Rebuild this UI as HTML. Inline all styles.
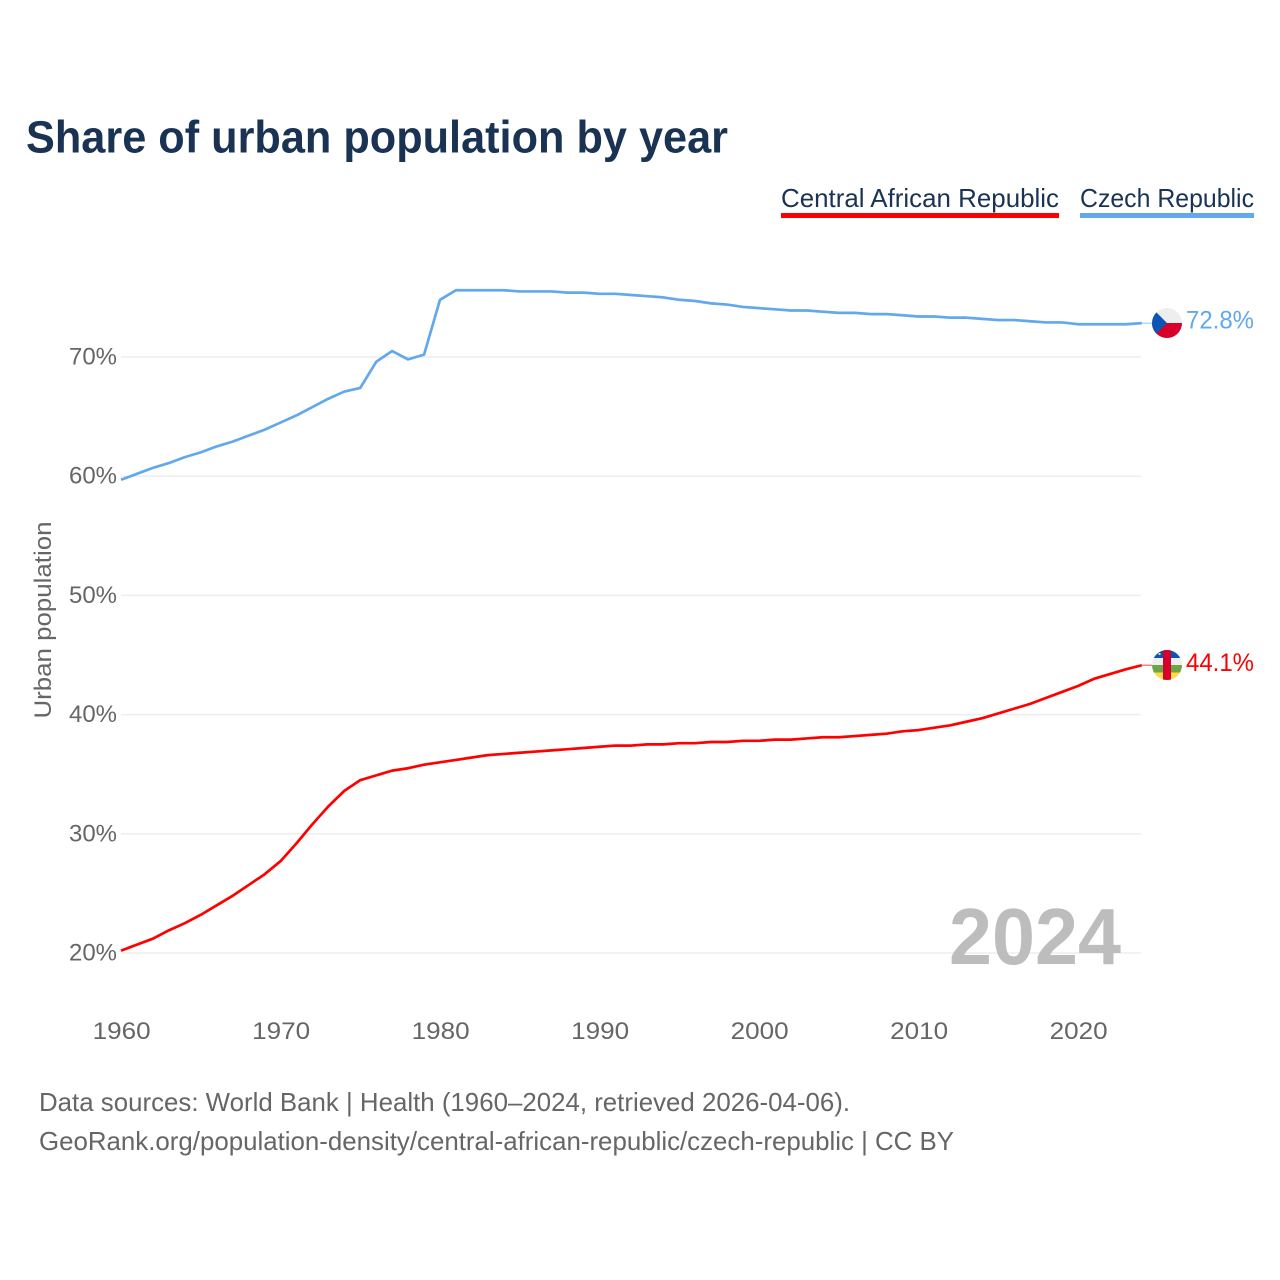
<!DOCTYPE html>
<html lang="en">
<head>
<meta charset="utf-8">
<title>Share of urban population by year</title>
<style>
html,body{margin:0;padding:0;background:#fff;}
svg{display:block;font-family:"Liberation Sans",sans-serif;}
</style>
</head>
<body>
<svg id="chart" xmlns="http://www.w3.org/2000/svg" width="1280" height="1280" viewBox="0 0 1280 1280">
  <rect x="0" y="0" width="1280" height="1280" fill="#ffffff"/>
  <text x="26" y="152.500" font-size="45" font-weight="700" fill="#1a3352" textLength="702" lengthAdjust="spacingAndGlyphs">Share of urban population by year</text>

  <g>
    <text x="781" y="207" font-size="26" fill="#1a3352" textLength="278" lengthAdjust="spacingAndGlyphs">Central African Republic</text>
    <rect x="781" y="213" width="278" height="5" fill="#ff0000"/>
  </g>
  <g>
    <text x="1080" y="207" font-size="26" fill="#1a3352" textLength="174" lengthAdjust="spacingAndGlyphs">Czech Republic</text>
    <rect x="1080" y="213" width="174" height="5" fill="#62a8ec"/>
  </g>

  <g id="grid"></g>
  <g id="yticks"></g>
  <g id="xticks"></g>
  <text transform="translate(51,620) rotate(-90)" text-anchor="middle" font-size="24" fill="#666666" textLength="197" lengthAdjust="spacingAndGlyphs">Urban population</text>

  <text x="949" y="964" font-size="80" font-weight="700" fill="#bdbdbd" textLength="172" lengthAdjust="spacingAndGlyphs">2024</text>

  <g id="series"></g>

  <defs>
    <clipPath id="flag-clip-cz"><circle cx="1167" cy="323" r="15"/></clipPath>
    <clipPath id="flag-clip-caf"><circle cx="1167" cy="665" r="15"/></clipPath>
  </defs>
  <g id="flag-cz" clip-path="url(#flag-clip-cz)">
    <rect x="1152" y="308" width="30" height="15" fill="#eeeeee"/>
    <rect x="1152" y="323" width="30" height="15" fill="#d7002b"/>
    <polygon points="1152,308 1167,323 1152,338" fill="#0b55b5"/>
  </g>
  <g id="flag-caf" clip-path="url(#flag-clip-caf)">
    <rect x="1152" y="650" width="30" height="8" fill="#0b55b5"/>
    <rect x="1152" y="658" width="30" height="7" fill="#eeeeee"/>
    <rect x="1152" y="665" width="30" height="7.5" fill="#6da544"/>
    <rect x="1152" y="672.5" width="30" height="7.5" fill="#ffda44"/>
    <rect x="1163" y="650" width="8" height="30" fill="#d7002b"/>
    <rect x="1158.500" y="653" width="2" height="2" fill="#ffda44"/>
  </g>
  <g id="endlabels"></g>

  <text x="39" y="1111" font-size="26" fill="#666666" textLength="811" lengthAdjust="spacingAndGlyphs">Data sources: World Bank | Health (1960–2024, retrieved 2026-04-06).</text>
  <text x="39" y="1150" font-size="26" fill="#666666" textLength="915" lengthAdjust="spacingAndGlyphs">GeoRank.org/population-density/central-african-republic/czech-republic | CC BY</text>
</svg>
<script>
const startYear = 1960;
const yTickValues = [20, 30, 40, 50, 60, 70];
const yTickLabels = ["20%", "30%", "40%", "50%", "60%", "70%"];
const xTickValues = [1960, 1970, 1980, 1990, 2000, 2010, 2020];
const xTickLabels = ["1960", "1970", "1980", "1990", "2000", "2010", "2020"];
const centralAfricanRepublic = [
  20.2, 20.7, 21.2, 21.9, 22.5, 23.2, 24.0, 24.8, 25.7, 26.6,
  27.7, 29.2, 30.8, 32.3, 33.6, 34.5, 34.9, 35.3, 35.5, 35.8,
  36.0, 36.2, 36.4, 36.6, 36.7, 36.8, 36.9, 37.0, 37.1, 37.2,
  37.3, 37.4, 37.4, 37.5, 37.5, 37.6, 37.6, 37.7, 37.7, 37.8,
  37.8, 37.9, 37.9, 38.0, 38.1, 38.1, 38.2, 38.3, 38.4, 38.6,
  38.7, 38.9, 39.1, 39.4, 39.7, 40.1, 40.5, 40.9, 41.4, 41.9,
  42.4, 43.0, 43.4, 43.8, 44.14
];
const czechRepublic = [
  59.7, 60.2, 60.7, 61.1, 61.6, 62.0, 62.5, 62.9, 63.4, 63.9,
  64.5, 65.1, 65.8, 66.5, 67.1, 67.4, 69.6, 70.5, 69.8, 70.2,
  74.8, 75.6, 75.6, 75.6, 75.6, 75.5, 75.5, 75.5, 75.4, 75.4,
  75.3, 75.3, 75.2, 75.1, 75.0, 74.8, 74.7, 74.5, 74.4, 74.2,
  74.1, 74.0, 73.9, 73.9, 73.8, 73.7, 73.7, 73.6, 73.6, 73.5,
  73.4, 73.4, 73.3, 73.3, 73.2, 73.1, 73.1, 73.0, 72.9, 72.9,
  72.75, 72.75, 72.75, 72.75, 72.84
];

const NS = "http://www.w3.org/2000/svg";
function xScale(year) { return 121 + (year - 1960) * 15.95; }
function yScale(v) { return 953 - (v - 20) * 11.92; }
function make(tag, attrs, parent, text) {
  const el = document.createElementNS(NS, tag);
  for (const k in attrs) el.setAttribute(k, attrs[k]);
  if (text !== undefined) el.textContent = text;
  parent.appendChild(el);
  return el;
}

const grid = document.getElementById("grid");
const yticks = document.getElementById("yticks");
yTickValues.forEach(function (v, i) {
  const line = make("line", { x1: 121, x2: 1141, y1: yScale(v), y2: yScale(v), stroke: "#eeeeee", "stroke-width": 1.5 }, grid);
  
  
  const t = make("text", { x: 117, y: yScale(v) + 7.5, "text-anchor": "end", "font-size": 24, fill: "#666666", textLength: 48, lengthAdjust: "spacingAndGlyphs" }, yticks, yTickLabels[i]);
  
  
});

const xticks = document.getElementById("xticks");
xTickValues.forEach(function (yr, i) {
  const t = make("text", { x: xScale(yr) + 0.6, y: 1039, "text-anchor": "middle", "font-size": 24, fill: "#666666", textLength: 58, lengthAdjust: "spacingAndGlyphs" }, xticks, xTickLabels[i]);
  
  
});

function linePath(values) {
  return values.map(function (v, i) {
    return (i ? "L" : "M") + xScale(startYear + i).toFixed(2) + " " + yScale(v).toFixed(2);
  }).join(" ");
}

const seriesGroup = document.getElementById("series");
const endLabels = document.getElementById("endlabels");

const blueLine = make("path", { d: linePath(czechRepublic), fill: "none", stroke: "#62a8ec", "stroke-width": 2.7, "stroke-linejoin": "round" }, seriesGroup);


const redLine = make("path", { d: linePath(centralAfricanRepublic), fill: "none", stroke: "#ff0000", "stroke-width": 2.7, "stroke-linejoin": "round" }, seriesGroup);



function addEnd(values, color) {
  const last = values[values.length - 1];
  const y = yScale(last);
  const lead = make("line", { x1: xScale(2024), x2: 1152, y1: y, y2: y, stroke: color, "stroke-width": 1.2, opacity: 0.6 }, seriesGroup);
  
  
  const label = make("text", { x: 1186, y: y + 5.5, "font-size": 25, fill: color, textLength: 68, lengthAdjust: "spacingAndGlyphs" }, endLabels, last.toFixed(1) + "%");
  
  
}
addEnd(czechRepublic, "#62a8ec");
addEnd(centralAfricanRepublic, "#ff0000");
</script>
</body>
</html>
